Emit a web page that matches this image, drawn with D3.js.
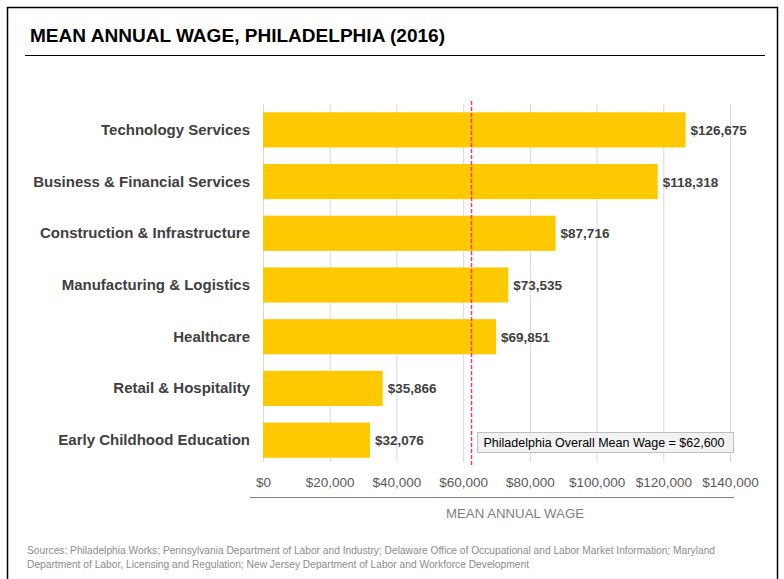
<!DOCTYPE html>
<html>
<head>
<meta charset="utf-8">
<script src="https://cdn.jsdelivr.net/npm/d3@7"></script>
<style>
  body { margin: 0; background: #fff; }
  text { font-family: "Liberation Sans", Arial, sans-serif; }
</style>
</head>
<body>
<svg width="784" height="579"></svg>
<script>
// chart data
const categories = [
    'Technology Services', 'Business & Financial Services', 'Construction & Infrastructure',
    'Manufacturing & Logistics', 'Healthcare', 'Retail & Hospitality', 'Early Childhood Education'
];
const wages = [126675, 118318, 87716, 73535, 69851, 35866, 32076];
const xTicks = [0, 20000, 40000, 60000, 80000, 100000, 120000, 140000];
const overallMean = 62600;

const chartTitle = "MEAN ANNUAL WAGE, PHILADELPHIA (2016)";
const axisTitle = "MEAN ANNUAL WAGE";
const meanLabel = "Philadelphia Overall Mean Wage = $62,600";
const sources = [
    "Sources: Philadelphia Works; Pennsylvania Department of Labor and Industry; Delaware Office of Occupational and Labor Market Information; Maryland",
    "Department of Labor, Licensing and Regulation; New Jersey Department of Labor and Workforce Development"
];

const svg = d3.select("svg");
const money = d3.format("$,");

// outer frame + title
svg.append("rect")
    .attr("x", 7.5).attr("y", 7.5)
    .attr("width", 770).attr("height", 600)
    .attr("fill", "none").attr("stroke", "#000").attr("stroke-width", 1.5);

svg.append("text")
    .attr("x", 30).attr("y", 42)
    .attr("font-size", 18).attr("font-weight", "bold")
    .attr("fill", "#000")
    .attr("textLength", 415).attr("lengthAdjust", "spacingAndGlyphs")
    .text(chartTitle);

svg.append("line")
    .attr("x1", 25).attr("x2", 765)
    .attr("y1", 55.5).attr("y2", 55.5)
    .attr("stroke", "#000").attr("stroke-width", 1);

// scales
const x = d3.scaleLinear().domain([0, 140000]).range([263, 730]);
const y = d3.scaleBand().domain(categories).range([104, 466]).paddingInner(0.32).paddingOuter(0.16);

// gridlines
svg.append("g")
    .selectAll("line").data(xTicks).enter()
    .append("line")
    .attr("x1", d => x(d) + 0.5).attr("x2", d => x(d) + 0.5)
    .attr("y1", 104).attr("y2", 462)
    .attr("stroke", "#d9d9d9").attr("stroke-width", 1);

// bars
svg.append("g")
    .selectAll("rect").data(wages).enter()
    .append("rect")
    .attr("x", x(0))
    .attr("y", (d, i) => y(categories[i]))
    .attr("width", d => x(d) - x(0))
    .attr("height", y.bandwidth())
    .attr("fill", "#ffc901");

// value labels
svg.append("g")
    .selectAll("text").data(wages).enter()
    .append("text")
    .attr("x", d => x(d) + 5)
    .attr("y", (d, i) => y(categories[i]) + y.bandwidth() / 2 + 5)
    .attr("font-size", 13.5).attr("font-weight", "bold")
    .attr("fill", "#404040")
    .text(d => money(d));

// category labels
svg.append("g")
    .selectAll("text").data(categories).enter()
    .append("text")
    .attr("x", 250)
    .attr("y", d => y(d) + y.bandwidth() / 2 + 5)
    .attr("text-anchor", "end")
    .attr("font-size", 15).attr("font-weight", "bold")
    .attr("fill", "#404040")
    .text(d => d);

// mean line (snapped to pixel for crispness)
const meanX = Math.round(x(overallMean)) - 0.5;
svg.append("line")
    .attr("x1", meanX).attr("x2", meanX)
    .attr("y1", 101).attr("y2", 466)
    .attr("stroke", "#f2386e").attr("stroke-width", 1.5)
    .attr("stroke-dasharray", "4,2");

// mean annotation box
const box = svg.append("g").attr("transform", "translate(477.5,432.5)");
box.append("rect")
    .attr("width", 256).attr("height", 20)
    .attr("fill", "#f2f2f2").attr("stroke", "#bfbfbf");
box.append("text")
    .attr("x", 6).attr("y", 14.5)
    .attr("font-size", 12.5).attr("fill", "#000")
    .text(meanLabel);

// x axis
const xAxis = d3.axisBottom(x)
    .tickValues(xTicks)
    .tickFormat(d => money(d))
    .tickSize(0)
    .tickPadding(0);

const axisG = svg.append("g")
    .attr("transform", "translate(0,477)")
    .call(xAxis);
axisG.select(".domain").remove();
axisG.selectAll("text")
    .attr("font-size", 13.5)
    .attr("fill", "#595959")
    .attr("font-family", "Liberation Sans, Arial, sans-serif");

svg.append("line")
    .attr("x1", 250).attr("x2", 734)
    .attr("y1", 497.5).attr("y2", 497.5)
    .attr("stroke", "#808080").attr("stroke-width", 1);

svg.append("text")
    .attr("x", 515).attr("y", 518)
    .attr("text-anchor", "middle")
    .attr("font-size", 13).attr("fill", "#7f7f7f")
    .attr("textLength", 138).attr("lengthAdjust", "spacingAndGlyphs")
    .text(axisTitle);

// sources
svg.append("g")
    .selectAll("text").data(sources).enter()
    .append("text")
    .attr("x", 27)
    .attr("y", (d, i) => 554 + i * 14)
    .attr("font-size", 10).attr("fill", "#8c8c8c")
    .attr("textLength", (d, i) => i === 0 ? 688 : 502)
    .attr("lengthAdjust", "spacingAndGlyphs")
    .text(d => d);
</script>
</body>
</html>
